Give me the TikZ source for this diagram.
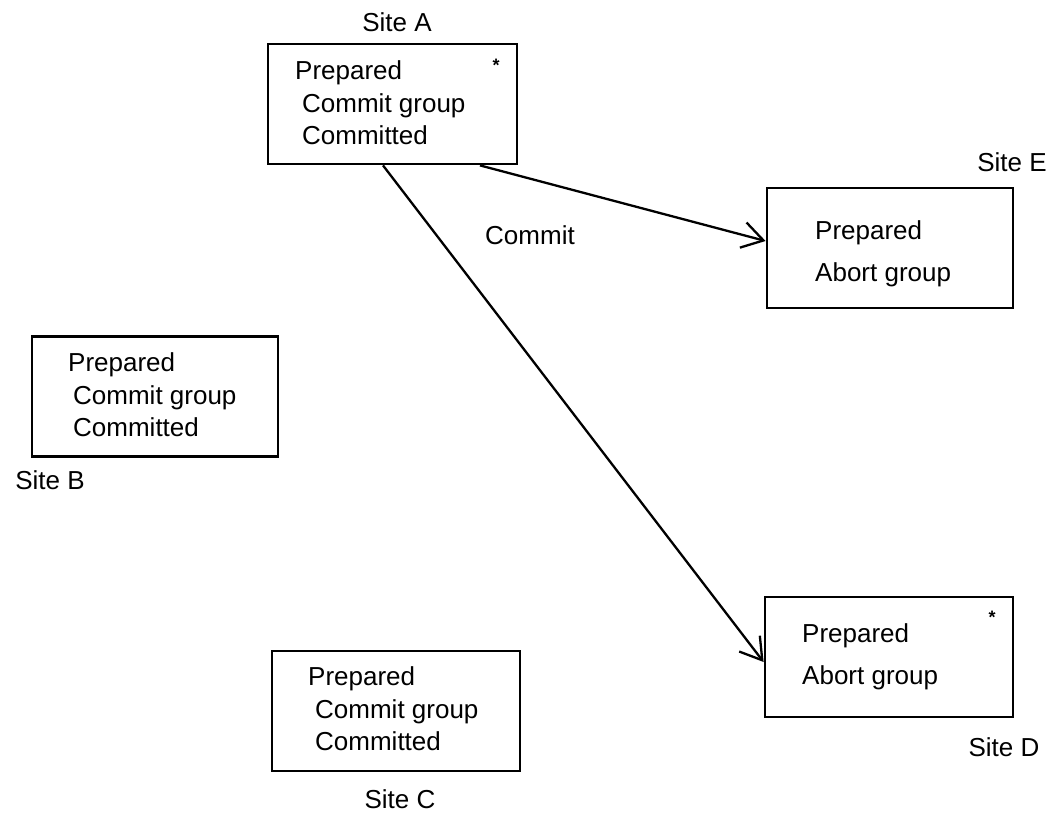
\documentclass[tikz,border=0pt]{standalone}
\usepackage{fontspec}
\setmainfont{Liberation Sans}
\usetikzlibrary{arrows.meta}
\begin{document}
\begin{tikzpicture}[x=1pt,y=-1pt,
  sitebox/.style={draw,line width=2.8pt,inner sep=0pt,minimum width=#1,minimum height=120pt},
  textline/.style={anchor=base west,inner sep=0pt,font=\fontsize{26}{30}\selectfont},
  sitelabel/.style={inner sep=0pt,font=\fontsize{26}{30}\selectfont},
  starmark/.style={anchor=base,inner sep=0pt,font=\fontsize{18}{20}\selectfont\bfseries},
  msg/.style={line width=2.3pt,-{Straight Barb[length=21pt,width=26pt,line width=2.3pt]}}]
\useasboundingbox (0,0) rectangle (1051,815);

% Site A
\node[sitebox=249pt] (A) at (392.5,104) {};
\node[textline] (a1) at (295,79) {Prepared};
\node[textline] (a2) at (302,112) {Commit group};
\node[textline] (a3) at (302,144) {Committed};
\node[starmark] (astar) at (496,71) {*};
\node[sitelabel] (la) at (397,22) {Site A};

% Site B
\node[sitebox=246pt] (B) at (155,396.5) {};
\node[textline] (b1) at (68,371) {Prepared};
\node[textline] (b2) at (73,404) {Commit group};
\node[textline] (b3) at (73,436) {Committed};
\node[sitelabel] (lb) at (50,480) {Site B};

% Site C
\node[sitebox=248pt] (C) at (396,711) {};
\node[textline] (c1) at (308,685) {Prepared};
\node[textline] (c2) at (315,718) {Commit group};
\node[textline] (c3) at (315,750) {Committed};
\node[sitelabel] (lc) at (400,799) {Site C};

% Site D
\node[sitebox=248pt] (D) at (889,657) {};
\node[textline] (d1) at (802,642) {Prepared};
\node[textline] (d2) at (802,684) {Abort group};
\node[starmark] (dstar) at (992,623) {*};
\node[sitelabel] (ld) at (1004,747) {Site D};

% Site E
\node[sitebox=246pt] (E) at (890,248) {};
\node[textline] (e1) at (815,239) {Prepared};
\node[textline] (e2) at (815,281) {Abort group};
\node[sitelabel] (le) at (1012,162) {Site E};

% Commit messages sent by A
\draw[msg] ([xshift=-9.5pt]A.south) -- ([yshift=-5pt]D.west);
\draw[msg] ([xshift=87.5pt]A.south) -- ([yshift=7pt]E.west);
\node[textline,anchor=west] (commit) at (485,235) {Commit};
\end{tikzpicture}
\end{document}
